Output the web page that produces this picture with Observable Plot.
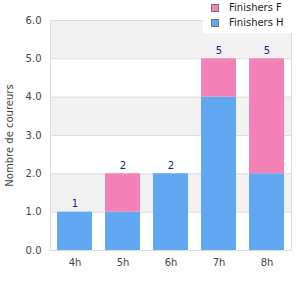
<!DOCTYPE html>
<html>
<head>
<meta charset="utf-8">
<script src="https://cdn.jsdelivr.net/npm/d3@7"></script>
<script src="https://cdn.jsdelivr.net/npm/@observablehq/plot@0.6"></script>
<style>
  body { margin: 0; background: #fff; font-family: "DejaVu Sans", sans-serif; }
  #wrap { position: relative; width: 300px; height: 300px; }
  #legend { position: absolute; top: 0; left: 203px; width: 97px; height: 33px; background: #fff; font-size: 10px; color: #222; }
  .item { position: absolute; left: 8px; display: flex; align-items: center; }
  .sw { width: 6px; height: 6px; border: 1px solid #777; margin-right: 10px; }
</style>
</head>
<body>
<div id="wrap"></div>
<script>
const categories = ["4h", "5h", "6h", "7h", "8h"];
const finishersH = [1, 1, 2, 4, 2];
const finishersF = [0, 1, 0, 1, 3];
const seriesNames = ["Finishers H", "Finishers F"];
const colors = ["#60a8f2", "#f282b8"];
const yTicks = [0, 1, 2, 3, 4, 5, 6];
const bands = [[1, 2], [3, 4], [5, 6]];

const rows = [];
categories.forEach((c, i) => {
  rows.push({cat: c, series: seriesNames[0], value: finishersH[i]});
  rows.push({cat: c, series: seriesNames[1], value: finishersF[i]});
});
const totals = categories.map((c, i) => ({cat: c, total: finishersH[i] + finishersF[i]}));

const plot = Plot.plot({
  width: 300,
  height: 300,
  marginLeft: 50,
  marginRight: 9,
  marginTop: 20,
  marginBottom: 50,
  style: {fontFamily: "DejaVu Sans, sans-serif", fontSize: "10px", color: "#444", background: "transparent"},
  x: {domain: categories, paddingInner: 0.27, paddingOuter: 0.135, label: null, tickSize: 0, tickPadding: 8},
  y: {domain: [0, 6], ticks: yTicks, tickFormat: d3.format(".1f"), tickSize: 0, tickPadding: 9, label: "Nombre de coureurs", labelAnchor: "center", labelArrow: "none", labelOffset: 45},
  color: {domain: seriesNames, range: colors},
  marks: [
    Plot.rect(bands, {y1: d => d[0], y2: d => d[1], fill: "#f2f2f2"}),
    Plot.ruleY(yTicks, {stroke: "#dcdcdc"}),
    Plot.frame({stroke: "#dcdcdc"}),
    Plot.barY(rows, Plot.stackY({x: "cat", y: "value", fill: "series", order: seriesNames})),
    Plot.text(totals, {x: "cat", y: "total", text: d => String(d.total), dy: -8, fill: "#1a1a8a", fontSize: 10})
  ]
});

const wrap = document.getElementById("wrap");
wrap.appendChild(plot);
const legend = document.createElement("div");
legend.id = "legend";
[["Finishers F", colors[1], 2], ["Finishers H", colors[0], 17]].forEach(([name, col, top]) => {
  const it = document.createElement("div");
  it.className = "item";
  it.style.top = top + "px";
  const sw = document.createElement("div");
  sw.className = "sw";
  sw.style.background = col;
  const tx = document.createElement("span");
  tx.textContent = name;
  it.appendChild(sw);
  it.appendChild(tx);
  legend.appendChild(it);
});
wrap.appendChild(legend);
</script>
</body>
</html>
